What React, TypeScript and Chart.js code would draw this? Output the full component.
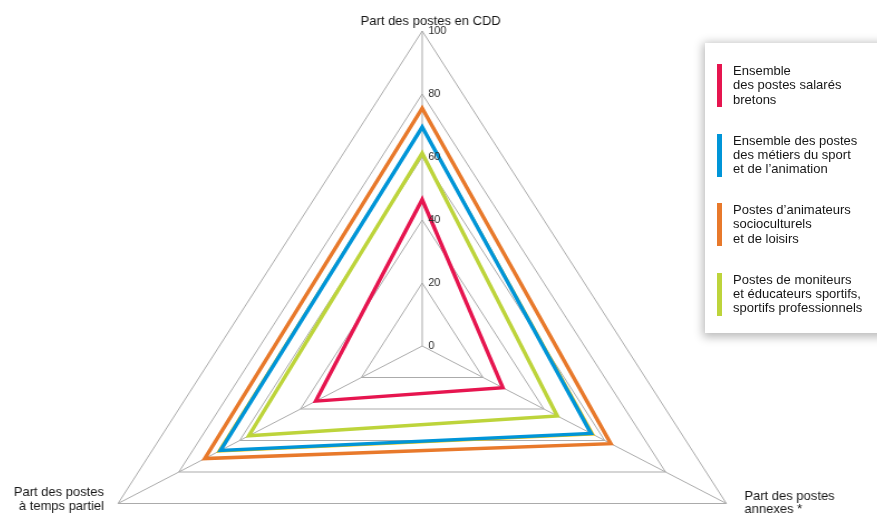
import React, { useEffect, useRef } from 'react';
import { Chart, registerables } from 'chart.js';

Chart.register(...registerables);

// ---- data ----
const CATEGORIES: string[][] = [
  ['Part des postes en CDD'],
  ['Part des postes', 'annexes *'],
  ['Part des postes', 'à temps partiel'],
];

const TICK_VALUES = [0, 20, 40, 60, 80, 100];

const SERIES_NAMES: string[][] = [
  ['Ensemble', 'des postes salarés', 'bretons'],
  ['Ensemble des postes', 'des métiers du sport', 'et de l’animation'],
  ['Postes d’animateurs', 'socioculturels', 'et de loisirs'],
  ['Postes de moniteurs', 'et éducateurs sportifs,', 'sportifs professionnels'],
];

// values in order: CDD, annexes, temps partiel
const BRETONS_VALUES = [46.5, 26.5, 35];
const SPORT_ANIM_VALUES = [69.5, 55.5, 66.3];
const ANIMATEURS_VALUES = [75.5, 62, 71.5];
const MONITEURS_VALUES = [61.2, 44.4, 57];
const SHADOW_VALUES = [69.6, 56.3, 67.1];

const SERIES_COLORS = ['#e6154f', '#0095d8', '#e8792b', '#bdd43b'];
const SHADOW_COLOR = '#f2c300';

// ---- styling ----
const FONT = "'Liberation Sans', Arial, Helvetica, sans-serif";
const GRID = '#ababab';
const STRETCH = 1.115;

const LABEL_PLACEMENT = [
  { align: 'center' as CanvasTextAlign, dx: 8.5, dy: [-9.6] },
  { align: 'left' as CanvasTextAlign, dx: 18, dy: [-7.2, 6.3] },
  { align: 'right' as CanvasTextAlign, dx: -14, dy: [-10.7, 2.8] },
];

const textPlugin = {
  id: 'stretchedText',
  afterDatasetsDraw(chart: any) {
    const scale = chart.scales.r;
    const ctx: CanvasRenderingContext2D = chart.ctx;
    ctx.save();
    ctx.textBaseline = 'middle';
    ctx.fillStyle = '#2a2a2a';
    ctx.font = `11px ${FONT}`;
    ctx.textAlign = 'left';
    TICK_VALUES.forEach((v) => {
      const p = scale.getPointPositionForValue(0, v);
      ctx.save();
      ctx.translate(p.x, p.y);
      ctx.scale(1 / STRETCH, 1);
      ctx.fillText(String(v), 6, -0.5);
      ctx.restore();
    });
    ctx.font = `13px ${FONT}`;
    ctx.fillStyle = '#161616';
    CATEGORIES.forEach((lines, i) => {
      const p = scale.getPointPositionForValue(i, 100);
      const pl = LABEL_PLACEMENT[i];
      ctx.save();
      ctx.translate(p.x, p.y);
      ctx.scale(1 / STRETCH, 1);
      ctx.textAlign = pl.align;
      lines.forEach((line, k) => {
        ctx.fillText(line, pl.dx, pl.dy[k]);
      });
      ctx.restore();
    });
    ctx.restore();
  },
};

export default function App() {
  const canvasRef = useRef<HTMLCanvasElement | null>(null);

  useEffect(() => {
    const canvas = canvasRef.current;
    if (!canvas) return;
    const mk = (label: string, data: number[], color: string, width: number) => ({
      label,
      data,
      borderColor: color,
      backgroundColor: color,
      borderWidth: width,
      borderJoinStyle: 'miter' as const,
      fill: false,
      pointRadius: 0,
      pointHoverRadius: 0,
      tension: 0,
    });
    const chart = new Chart(canvas, {
      type: 'radar',
      data: {
        labels: CATEGORIES.map((c) => c.join(' ')),
        datasets: [
          mk(SERIES_NAMES[0].join(' '), BRETONS_VALUES, SERIES_COLORS[0], 3.5),
          mk(SERIES_NAMES[1].join(' '), SPORT_ANIM_VALUES, SERIES_COLORS[1], 3.5),
          mk(SERIES_NAMES[2].join(' '), ANIMATEURS_VALUES, SERIES_COLORS[2], 3.5),
          mk(SERIES_NAMES[3].join(' '), MONITEURS_VALUES, SERIES_COLORS[3], 3.5),
          mk('', SHADOW_VALUES, SHADOW_COLOR, 2),
        ],
      },
      options: {
        responsive: false,
        animation: false,
        devicePixelRatio: 1,
        layout: { padding: { top: 31, left: 0, right: 0, bottom: 0 } },
        plugins: {
          legend: { display: false },
          tooltip: { enabled: false },
          title: { display: false },
        },
        scales: {
          r: {
            min: 0,
            max: 100,
            ticks: { display: false, stepSize: 20 },
            pointLabels: { display: false },
            grid: { color: GRID, lineWidth: 1 },
            angleLines: { color: GRID, lineWidth: 1 },
          },
        },
      } as any,
      plugins: [textPlugin],
    });
    return () => chart.destroy();
  }, []);

  const entryTops = [21, 90.5, 160, 229.5];

  return (
    <div
      style={{
        position: 'fixed',
        left: 0,
        top: 0,
        width: 877,
        height: 517,
        overflow: 'hidden',
        background: '#ffffff',
      }}
    >
      <canvas
        ref={canvasRef}
        width={786}
        height={661}
        style={{
          position: 'absolute',
          left: -16,
          top: 0,
          width: 786,
          height: 661,
          transform: `scaleX(${STRETCH})`,
          transformOrigin: '0 0',
        }}
      />
      <div
        style={{
          position: 'absolute',
          left: 705,
          top: 43,
          width: 200,
          height: 290,
          background: '#ffffff',
          boxShadow: '0 2px 9px 2px rgba(0,0,0,0.28)',
          fontFamily: FONT,
          fontSize: 13,
          lineHeight: '14.3px',
          color: '#161616',
        }}
      >
        {SERIES_NAMES.map((lines, i) => (
          <div key={i} style={{ position: 'absolute', left: 0, top: entryTops[i] }}>
            <div
              style={{
                position: 'absolute',
                left: 12,
                top: 0,
                width: 5,
                height: 43,
                background: SERIES_COLORS[i],
              }}
            />
            <div style={{ position: 'absolute', left: 28, top: 0, whiteSpace: 'nowrap' }}>
              {lines.map((l, k) => (
                <div key={k}>{l}</div>
              ))}
            </div>
          </div>
        ))}
      </div>
    </div>
  );
}
